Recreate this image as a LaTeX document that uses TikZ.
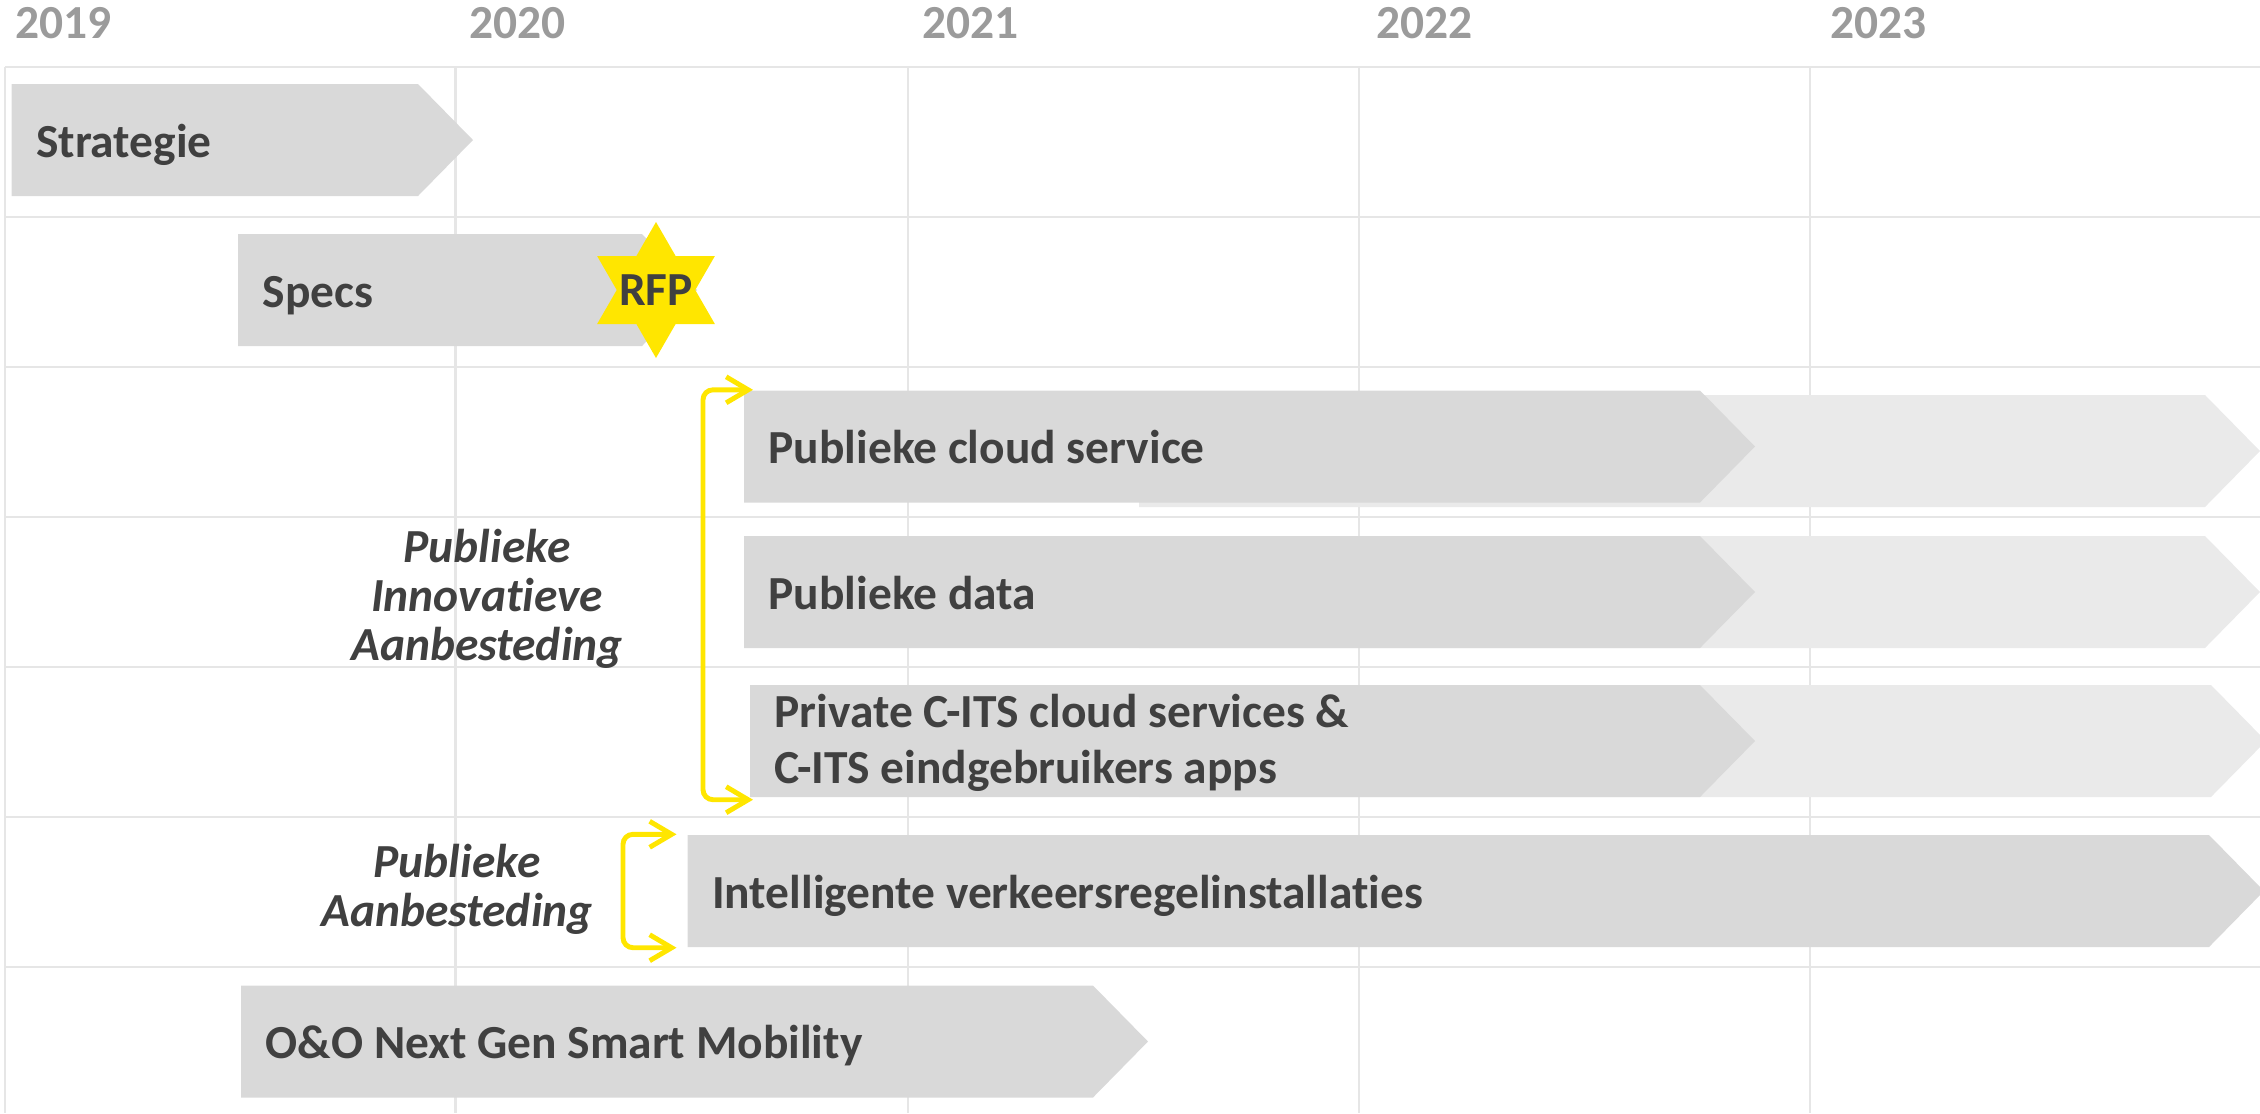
\documentclass[tikz,border=0pt]{standalone}
\usepackage{fontspec}
\setmainfont{Carlito}[Ligatures={NoCommon,NoRare,NoContextual}]
\usepackage{tikz}
\usetikzlibrary{arrows.meta,positioning,calc}
\definecolor{gridgray}{RGB}{230, 230, 230}
\definecolor{yeargray}{RGB}{155, 155, 155}
\definecolor{bardark}{RGB}{217, 217, 217}
\definecolor{barlight}{RGB}{234, 234, 234}
\definecolor{textgray}{RGB}{64, 64, 64}
\definecolor{eyyellow}{RGB}{255, 230, 0}
\newcommand{\barfont}{\fontsize{13.5}{16.1}\selectfont\bfseries}
\newcommand{\notefont}{\fontsize{13.5}{13.9}\selectfont\bfseries\itshape}
% chevron bar: [fill] x-start, x-end of body, y-centre
\newcommand{\chevron}[4][bardark]{%
    \fill[#1] (#2,#4-0.56) -- (#3,#4-0.56) -- (#3+0.55,#4) -- (#3,#4+0.56) -- (#2,#4+0.56) -- cycle;}

\begin{document}
\begin{tikzpicture}[x=1cm, y=-1cm, >={Straight Barb[length=0.22cm, width=0.26cm]},
    gridline/.style={draw=gridgray, line width=0.8pt},
    yearlabel/.style={anchor=base west, inner sep=0pt, text=yeargray, font=\barfont},
    barlabel/.style={anchor=west, minimum height=1.12cm, inner xsep=0.24cm, inner ysep=0pt,
        text height=0.46cm, text depth=0.12cm, text=textgray, font=\barfont},
    twolabel/.style={anchor=west, minimum height=1.12cm, inner xsep=0.24cm, inner ysep=0pt,
        align=left, text=textgray, font=\barfont},
    notelabel/.style={align=center, inner sep=0pt, text=textgray, font=\notefont},
    bracket/.style={<->, draw=eyyellow, line width=1.4pt, line cap=round, rounded corners=0.1cm}]
    \useasboundingbox (0,0) rectangle (22.6,11.13);
    \clip (0,0) rectangle (22.6,11.13);

    % Grid
    \foreach \y in {0.67,2.17,3.67,5.17,6.67,8.17,9.67}
        \draw[gridline] (0.05,\y) -- (22.6,\y);
    \foreach \x in {0.05,4.555,9.08,13.59,18.10}
        \draw[gridline] (\x,0.67) -- (\x,11.13);

    % Years
    \node[yearlabel] (y2019) at (0.15,0.38) {2019};
    \node[yearlabel] (y2020) at (4.69,0.38) {2020};
    \node[yearlabel] (y2021) at (9.22,0.38) {2021};
    \node[yearlabel] (y2022) at (13.76,0.38) {2022};
    \node[yearlabel] (y2023) at (18.30,0.38) {2023};

    % Follow-up phases (light)
    \chevron[barlight]{11.39}{22.05}{4.51}
    \chevron[barlight]{11.39}{22.05}{5.92}
    \chevron[barlight]{11.39}{22.11}{7.41}

    % Bars
    \chevron{0.115}{4.18}{1.40}
    \chevron{2.38}{6.42}{2.90}
    \chevron{7.44}{17.00}{4.465}
    \chevron{7.44}{17.00}{5.92}
    \chevron{7.50}{17.00}{7.41}
    \chevron{6.875}{22.09}{8.91}
    \chevron{2.41}{10.93}{10.415}

    % RFP star
    \fill[eyyellow] (6.56,2.90) +(90:0.68) -- +(120:0.3926) -- +(150:0.68) -- +(180:0.3926)
        -- +(210:0.68) -- +(240:0.3926) -- +(270:0.68) -- +(300:0.3926) -- +(330:0.68)
        -- +(0:0.3926) -- +(30:0.68) -- +(60:0.3926) -- cycle;
    \node[inner sep=0pt, text=textgray, font=\barfont] (rfp) at (6.56,2.90) {RFP};

    % Bar labels
    \node[barlabel] (strat) at (0.115,1.40) {Strategie};
    \node[barlabel] (specs) at (2.38,2.90) {Specs};
    \node[barlabel] (cloud) at (7.44,4.465) {Publieke cloud service};
    \node[barlabel] (data) at (7.44,5.92) {Publieke data};
    \node[twolabel] (priv) at (7.50,7.43) {Private C-ITS cloud services \&\\C-ITS eindgebruikers apps};
    \node[barlabel] (ivri) at (6.875,8.91) {Intelligente verkeersregelinstallaties};
    \node[barlabel] (oeno) at (2.41,10.415) {O\&O Next Gen Smart Mobility};

    % Procurement notes
    \node[notelabel] (pia) at (4.87,5.99) {Publieke\\Innovatieve\\Aanbesteding};
    \node[notelabel] (pa) at (4.57,8.89) {Publieke\\Aanbesteding};

    % Brackets
    \draw[bracket] ([xshift=0.09cm]cloud.north west) -| ([xshift=-0.47cm]priv.south west)
        -- ([xshift=0.03cm]priv.south west);
    \draw[bracket] ([xshift=-0.11cm]ivri.north west) -| ([xshift=-0.645cm]ivri.south west)
        -- ([xshift=-0.11cm]ivri.south west);
\end{tikzpicture}
\end{document}
